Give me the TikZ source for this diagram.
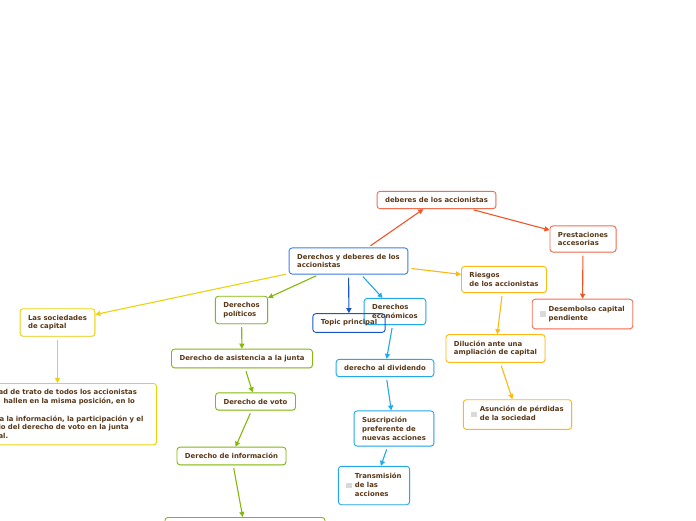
\documentclass[tikz,border=0pt]{standalone}
\usepackage{fontspec}
\setmainfont{DejaVu Sans}
\usetikzlibrary{arrows.meta,shadows}

\begin{document}
\begin{tikzpicture}[x=1pt,y=1pt,
  flatbox/.style={draw,fill=white,rounded corners=3pt,line width=0.9pt,inner xsep=8pt,inner ysep=6pt,
    align=left,font=\mapfont,text=maptext},
  box/.style={flatbox,drop shadow={shadow xshift=0.6pt,shadow yshift=-0.8pt,opacity=0.15}},
  link/.style={line width=1.1pt,shorten <=3pt,-{Triangle[length=5pt,width=5pt]}}]
\definecolor{maptext}{RGB}{88,56,24}
\definecolor{mapred}{RGB}{242,110,80}
\definecolor{mapredl}{RGB}{240,85,35}
\definecolor{mapblue}{RGB}{60,130,230}
\definecolor{mapdark}{RGB}{25,85,205}
\definecolor{mapcyan}{RGB}{35,168,232}
\definecolor{mapamber}{RGB}{250,185,20}
\definecolor{mapgreen}{RGB}{130,185,10}
\definecolor{mapyellow}{RGB}{235,210,10}
\providecommand{\mapfont}{\fontsize{6.9}{8.8}\selectfont\bfseries}
\providecommand{\chk}{\textcolor{black!15}{\rule[-1pt]{5.5pt}{5.5pt}}\hspace{3pt}}
\useasboundingbox (0,0) rectangle (696,520);
\clip (0,0) rectangle (696,520);
% central topic and duties
\node[box,draw=mapblue] (central) at (348.5,259) {Derechos y deberes de los\\accionistas};
\node[box,draw=mapred] (deberes) at (436.5,320) {deberes de los accionistas};
\node[box,draw=mapred] (prest) at (583,281) {Prestaciones\\accesorias};
\node[box,draw=mapred] (desemb) at (582.5,206) {\chk\begin{tabular}{@{}l@{}}Desembolso capital\\pendiente\end{tabular}};
% risks
\node[box,draw=mapamber] (riesgos) at (504,240.5) {Riesgos\\de los accionistas};
\node[box,draw=mapamber] (dilucion) at (495.5,171.5) {Dilución ante una\\ampliación de capital};
\node[box,draw=mapamber] (asuncion) at (517.5,105.5) {\chk\begin{tabular}{@{}l@{}}Asunción de pérdidas\\de la sociedad\end{tabular}};
% economic rights
\node[box,draw=mapcyan] (econ) at (395,208.5) {Derechos\\económicos};
\node[flatbox,draw=mapdark,fill=none] (topic) at (349,197) {Topic principal};
\node[box,draw=mapcyan] (dividendo) at (385,152) {derecho al dividendo};
\node[box,draw=mapcyan] (suscrip) at (394,91.5) {Suscripción\\preferente de\\nuevas acciones};
\node[box,draw=mapcyan] (transm) at (374,34.5) {\chk\begin{tabular}{@{}l@{}}Transmisión\\de las\\acciones\end{tabular}};
% political rights
\node[box,draw=mapgreen] (politicos) at (241.5,210) {Derechos\\políticos};
\node[box,draw=mapgreen] (asistencia) at (242,161.5) {Derecho de asistencia a la junta};
\node[box,draw=mapgreen] (voto) at (255.5,118.5) {Derecho de voto};
\node[box,draw=mapgreen] (informacion) at (231.5,64) {Derecho de información};
\node[box,draw=mapgreen,minimum width=160pt,minimum height=24pt,anchor=north] (derotro) at (245,3) {};
% companies
\node[box,draw=mapyellow] (sociedades) at (57.5,197.5) {Las sociedades\\de capital};
\node[box,draw=mapyellow,anchor=north east,text width=150pt] (igualdad) at (157,137)
  {ad de trato de todos los accionistas\\\hspace*{5pt}hallen en la misma posición, en lo\\[8.8pt]\hspace*{1pt}a la información, la participación y el\\io del derecho de voto en la junta\\al.};
% connectors
\draw[link,mapredl] (central) -- (deberes);
\draw[link,mapredl] (deberes) -- (prest);
\draw[link,mapredl] (prest) -- (desemb);
\draw[link,mapamber] (central) -- (riesgos);
\draw[link,mapamber] (riesgos) -- (dilucion);
\draw[link,mapamber] (dilucion) -- (asuncion);
\draw[link,mapdark] (central) -- (topic);
\draw[link,mapcyan] (central) -- (econ);
\draw[link,mapcyan] (econ) -- (dividendo);
\draw[link,mapcyan] (dividendo) -- (suscrip);
\draw[link,mapcyan] (suscrip) -- (transm);
\draw[link,mapgreen] (central) -- (politicos);
\draw[link,mapgreen] (politicos) -- (asistencia);
\draw[link,mapgreen] (asistencia) -- (voto);
\draw[link,mapgreen] (voto) -- (informacion);
\draw[link,mapgreen] (informacion) -- (derotro);
\draw[link,mapyellow] (central) -- (sociedades);
\draw[link,mapyellow] (sociedades) -- (sociedades |- igualdad.north);
\end{tikzpicture}
\end{document}
